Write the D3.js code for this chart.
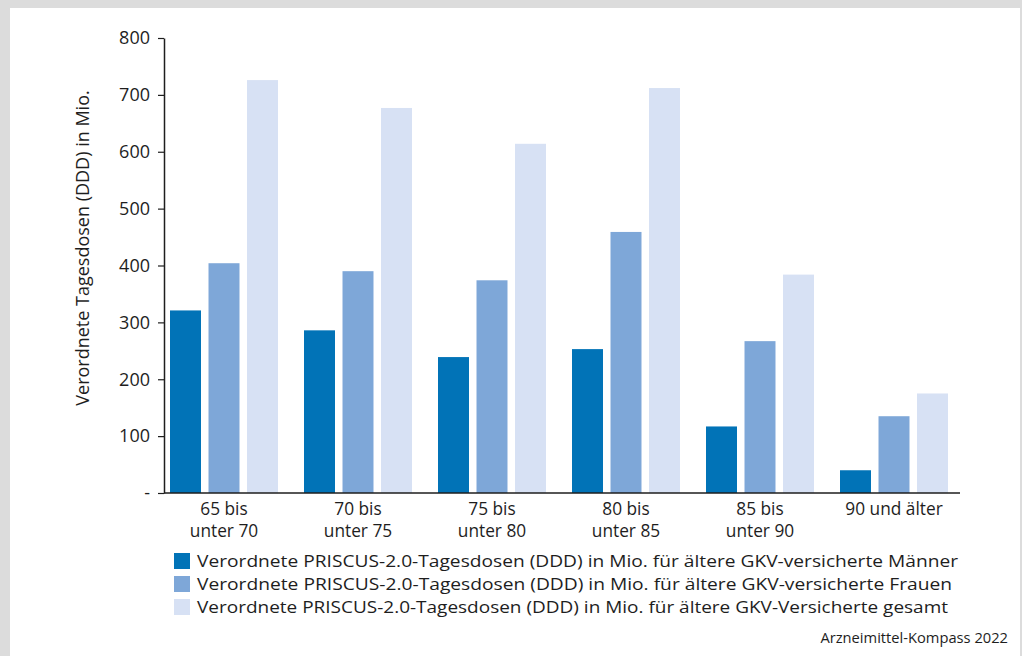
<!DOCTYPE html>
<html><head><meta charset="utf-8">
<script src="https://cdn.jsdelivr.net/npm/d3@7"></script>
<style>
html,body{margin:0;padding:0;background:#dcdcdc;}
svg{display:block;}
text{font-family:"Open Sans","Noto Sans",sans-serif;fill:#1e1e1e;}
</style></head>
<body>
<svg id="chart" width="1022" height="656"></svg>
<script>
const categories = [["65 bis","unter 70"],["70 bis","unter 75"],["75 bis","unter 80"],["80 bis","unter 85"],["85 bis","unter 90"],["90 und älter"]];
const seriesNames = [
  "Verordnete PRISCUS-2.0-Tagesdosen (DDD) in Mio. für ältere GKV-versicherte Männer",
  "Verordnete PRISCUS-2.0-Tagesdosen (DDD) in Mio. für ältere GKV-versicherte Frauen",
  "Verordnete PRISCUS-2.0-Tagesdosen (DDD) in Mio. für ältere GKV-Versicherte gesamt"
];
const maenner = [321, 286, 239, 253, 117, 40];
const frauen  = [404, 390, 374, 459, 267, 135];
const gesamt  = [726, 677, 614, 712, 384, 175];
const yTicks = [0, 100, 200, 300, 400, 500, 600, 700, 800];
const yTickLabels = ["-", "100", "200", "300", "400", "500", "600", "700", "800"];
const colors = ["#0173b7", "#7ea7d8", "#d7e1f4"];
const yTitle = "Verordnete Tagesdosen (DDD) in Mio.";
const source = "Arzneimittel-Kompass 2022";

const series = [maenner, frauen, gesamt];
const svg = d3.select("#chart");

// white panel inside grey frame
svg.append("rect").attr("x",10).attr("y",8).attr("width",1010).attr("height",660).attr("fill","#fff");

const x0 = d3.scaleBand().domain(d3.range(categories.length)).range([157, 961]).padding(0);
const x1 = d3.scaleBand().domain(d3.range(series.length)).range([13, 121]).paddingInner(0.195).paddingOuter(0);
const y = d3.scaleLinear().domain([0, 800]).range([493, 38]);

// bars
const g = svg.append("g");
series.forEach((vals, si) => {
  g.selectAll(null).data(vals).enter().append("rect")
    .attr("x", (d,i) => x0(i) + x1(si))
    .attr("width", x1.bandwidth())
    .attr("y", d => y(d))
    .attr("height", d => y(0) - y(d))
    .attr("fill", colors[si]);
});

// y axis
const yAxis = d3.axisLeft(y).tickValues(yTicks).tickFormat((d,i) => yTickLabels[i]).tickSize(6).tickSizeOuter(0).tickPadding(8);
const ya = svg.append("g").attr("transform","translate(164,0)").call(yAxis);
ya.select(".domain").attr("stroke","#1e1e1e").attr("stroke-width",1.5);
ya.selectAll(".tick line").attr("stroke","#1e1e1e").attr("stroke-width",1.2);
ya.selectAll(".tick text").attr("font-size",18).attr("fill","#1e1e1e").style("font-family",'"Open Sans","Noto Sans",sans-serif');

// x axis line
svg.append("line").attr("x1",164).attr("x2",960).attr("y1",y(0)).attr("y2",y(0)).attr("stroke","#1e1e1e").attr("stroke-width",1.5);

// x labels
categories.forEach((lines, i) => {
  const t = svg.append("text").attr("text-anchor","middle").attr("font-size",17.3)
    .attr("x", x0(i) + x0.bandwidth()/2).attr("y", 515);
  lines.forEach((l, li) => t.append("tspan").attr("x", x0(i) + x0.bandwidth()/2).attr("dy", li ? 22 : 0).text(l));
});

// y title
svg.append("text").attr("transform", "translate(89," + 248 + ") rotate(-90)")
  .attr("text-anchor","middle").attr("font-size",18).text(yTitle);

// legend
const legendWidths = [761, 755, 751];
seriesNames.forEach((name, i) => {
  const yy = 553 + i * 23;
  svg.append("rect").attr("x",174).attr("y",yy).attr("width",16).attr("height",16).attr("fill",colors[i]);
  svg.append("text").attr("x",197).attr("y",yy+14).attr("font-size",16.8)
    .attr("textLength", legendWidths[i]).attr("lengthAdjust","spacingAndGlyphs").text(name);
});

// source
svg.append("text").attr("x",1008).attr("y",643).attr("text-anchor","end").attr("font-size",14.7).text(source);
</script>
</body></html>
